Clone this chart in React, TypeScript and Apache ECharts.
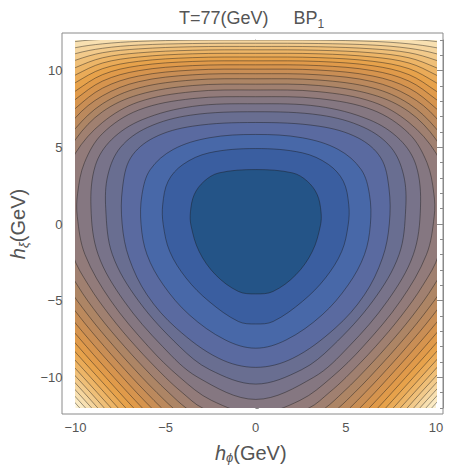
import React, { useEffect, useRef } from 'react';
import * as echarts from 'echarts';

// Contour lines of the effective potential, right half only (h_phi >= 0).
// Each list runs from the upper crossing of the h_xi axis clockwise round to the
// lower crossing; the left half is the mirror image. Points past the frame keep the
// curves continuous where they leave the plotting range.
const ring01 = [[0, 3.55], [2.05, 3.33], [2.86, 2.79], [3.41, 1.92], [3.62, 0.8], [3.59, -0.1], [3.14, -1.79], [2.23, -3.31], [0.96, -4.4], [0, -4.56]];
const ring02 = [[0, 4.92], [2.59, 4.64], [4.04, 3.88], [4.86, 2.79], [5.16, 1.26], [5.13, -0.04], [4.77, -1.79], [3.86, -3.53], [2.59, -5.05], [0.96, -6.36], [0, -6.52]];
const ring03 = [[0, 5.84], [2.59, 5.62], [4.58, 4.86], [5.85, 3.55], [6.31, 1.92], [6.36, -0.04], [6.03, -2.0], [5.13, -3.97], [3.68, -5.93], [1.69, -7.56], [0, -8.1]];
const ring04 = [[0, 6.62], [3.5, 6.38], [5.67, 5.62], [6.94, 4.31], [7.39, 2.35], [7.41, 0], [7.03, -2.22], [6.03, -4.62], [4.4, -6.8], [2.05, -8.76], [0, -9.35]];
const ring05 = [[0, 7.32], [3.6, 7.1], [6.0, 6.3], [7.5, 5.0], [8.2, 3.2], [8.32, 1.0], [7.95, -2], [6.51, -5], [4.22, -8], [2.55, -9.5], [0, -10.44]];
const ring06 = [[0, 7.84], [3.5, 7.67], [6.3, 6.8], [8.0, 5.5], [8.9, 3.8], [9.14, 1.1], [8.74, -2], [7.32, -5], [5.16, -8], [3.21, -10], [0, -11.44]];
const ring07 = [[0, 8.3], [3.5, 8.18], [6.5, 7.43], [8.5, 5.9], [9.5, 4.0], [9.88, 2.0], [9.9, 0.5], [9.47, -2], [8.04, -5], [5.95, -8], [4.21, -10], [2.46, -11.5], [0, -12.37]];
const ring08 = [[0, 8.74], [3.5, 8.63], [6.5, 7.96], [8.5, 6.62], [10, 4.62], [10.45, 2.9], [10.54, 1.0], [10.15, -2], [9.27, -4], [8.07, -6], [6.64, -8], [5.01, -10], [4.07, -11], [2.95, -12], [0, -13.23]];
const ring09 = [[0, 9.12], [3.5, 9.03], [6.5, 8.43], [8.5, 7.32], [10, 5.51], [10.9, 3.4], [11.19, 1.0], [10.78, -2], [9.89, -4], [8.69, -6], [7.27, -8], [5.69, -10], [4.82, -11], [3.86, -12], [1.91, -13.5], [0, -14.04]];
const ring10 = [[0, 9.47], [3.5, 9.39], [6.5, 8.87], [8.5, 7.84], [10, 6.23], [11.3, 4.0], [11.79, 0.9], [11.38, -2], [10.48, -4], [9.26, -6], [7.85, -8], [6.31, -10], [5.48, -11], [4.59, -12], [3.01, -13.5], [0, -14.8]];
const ring11 = [[0, 9.8], [3.5, 9.73], [6.5, 9.28], [8.5, 8.36], [10, 6.93], [11.5, 4.4], [12.2, 2.4], [12.37, 0.7], [11.95, -2], [11.03, -4], [9.8, -6], [8.39, -8], [6.87, -10], [6.06, -11], [5.22, -12], [3.81, -13.5], [0, -15.53]];
const ring12 = [[0, 10.1], [3.5, 10.04], [6.5, 9.65], [8.5, 8.86], [10, 7.54], [11.5, 5.8], [12.5, 3.6], [12.93, 0.6], [12.49, -2], [11.56, -4], [10.32, -6], [8.9, -8], [7.38, -10], [6.6, -11], [5.78, -12], [4.47, -13.5], [0, -16.23]];
const ring13 = [[0, 10.38], [3.5, 10.33], [6.5, 10.0], [8.5, 9.32], [10, 8.13], [11.5, 6.7], [12.8, 4.4], [13.46, 0.5], [13.01, -2], [12.07, -4], [10.81, -6], [9.38, -8], [7.87, -10], [7.09, -11], [6.29, -12], [5.04, -13.5], [0, -16.89]];
const ring14 = [[0, 10.64], [3.5, 10.6], [6.5, 10.32], [8.5, 9.74], [10, 8.67], [11.5, 7.4], [13.0, 5.2], [13.97, 0.4], [13.51, -2], [12.55, -4], [11.27, -6], [9.84, -8], [8.32, -10], [7.55, -11], [6.77, -12], [5.55, -13.5], [0, -17.53]];
const ring15 = [[0, 10.89], [3.5, 10.85], [6.5, 10.61], [8.5, 10.13], [10, 9.22], [11.5, 8.1], [13.3, 5.6], [14.46, 0.3], [14.0, -2], [13.02, -4], [11.72, -6], [10.27, -8], [8.75, -10], [7.98, -11], [7.21, -12], [6.02, -13.5], [0, -18.15]];
const ring16 = [[0, 11.13], [3.5, 11.1], [6.5, 10.89], [8.5, 10.5], [10, 9.72], [11.5, 8.75], [13.6, 6.0], [14.94, 0.3], [14.46, -2], [13.47, -4], [12.16, -6], [10.69, -8], [9.16, -10], [8.39, -11], [7.63, -12], [6.45, -13.5], [0, -18.74]];
const ring17 = [[0, 11.36], [3.5, 11.33], [6.5, 11.16], [8.5, 10.84], [10, 10.2], [11.5, 9.35], [13.9, 6.4], [15.4, 0.2], [14.91, -2], [13.9, -4], [12.57, -6], [11.09, -8], [9.56, -10], [8.79, -11], [8.02, -12], [6.86, -13.5], [0, -19.32]];
const ring18 = [[0, 11.58], [3.5, 11.56], [6.5, 11.42], [8.5, 11.17], [10, 10.68], [11.5, 9.95], [14.2, 6.8], [15.85, 0.2], [15.35, -2], [14.32, -4], [12.98, -6], [11.48, -8], [9.94, -10], [9.16, -11], [8.4, -12], [7.25, -13.5], [0, -19.88]];
const ring19 = [[0, 11.79], [3.5, 11.77], [6.5, 11.67], [8.5, 11.46], [10, 11.11], [11.5, 10.5], [14.5, 7.2], [16.28, 0.1], [15.78, -2], [14.73, -4], [13.37, -6], [11.86, -8], [10.3, -10], [9.52, -11], [8.76, -12], [7.61, -13.5], [0, -20.42]];
const ring20 = [[0, 12.0], [3.5, 11.99], [6.5, 11.91], [8.5, 11.75], [10, 11.5], [11.5, 11.05], [14.8, 7.6], [16.71, 0.1], [16.2, -2], [15.13, -4], [13.75, -6], [12.22, -8], [10.65, -10], [9.87, -11], [9.1, -12], [7.96, -13.5], [0, -20.94]];
const ring21 = [[0, 12.2], [3.5, 12.19], [6.5, 12.14], [8.5, 12.04], [10, 11.9], [11.5, 11.55], [15.1, 8.0], [17.12, 0.1], [16.6, -2], [15.52, -4], [14.12, -6], [12.57, -8], [10.99, -10], [10.21, -11], [9.44, -12], [8.29, -13.5], [0, -21.46]];
const ring22 = [[0, 12.4], [3.5, 12.39], [6.5, 12.35], [8.5, 12.27], [10, 12.2], [11.5, 11.9], [15.4, 8.4], [17.53, 0.1], [17.0, -2], [15.9, -4], [14.48, -6], [12.92, -8], [11.32, -10], [10.53, -11], [9.76, -12], [8.62, -13.5], [0, -21.96]];

const rings = [
  ring01, ring02, ring03, ring04, ring05, ring06, ring07, ring08, ring09, ring10, ring11,
  ring12, ring13, ring14, ring15, ring16, ring17, ring18, ring19, ring20, ring21, ring22,
];

const xTickValues = [-10, -5, 0, 5, 10];
const yTickValues = [-10, -5, 0, 5, 10];

const titleMain = 'T=77(GeV)     BP';
const titleSub = '1';

// fill of each band between neighbouring contours, lowest band first
const bandColors = [
  '#245487', '#3a5ea0', '#4868a8', '#5a6aa0', '#696e91', '#78738a', '#857781', '#927b7a',
  '#a08070', '#ad8565', '#bb895d', '#c98e55', '#d6944e', '#e09a4a', '#e7a24b', '#eaab58',
  '#edb567', '#efbf78', '#f2ca8b', '#f5d59e', '#f8e0b1', '#fbeac3', '#fdf2d3',
];

const FONT = '"Liberation Sans", Arial, sans-serif';
const TEXT = '#555555';
const FRAME = '#8a8a8a';
const LINE = 'rgba(25,25,25,0.55)';

const fmt = (v: number) => (v < 0 ? '\u2212' + Math.abs(v) : String(v));

const nameRich = {
  i: { fontFamily: FONT, fontStyle: 'italic' as const, fontSize: 20, color: TEXT, lineHeight: 23 },
  s: { fontFamily: FONT, fontStyle: 'italic' as const, fontSize: 13, color: TEXT, lineHeight: 9, verticalAlign: 'bottom' as const },
  n: { fontFamily: FONT, fontSize: 20, color: TEXT, lineHeight: 23 },
};

export default function App() {
  const ref = useRef<HTMLDivElement>(null);

  useEffect(() => {
    if (!ref.current) return;
    const chart = echarts.init(ref.current, undefined, { renderer: 'svg' });

    const order = rings.map((_, i) => rings.length - 1 - i);

    const tickStyle = { color: FRAME, width: 1 };

    const option: any = {
      animation: false,
      backgroundColor: '#ffffff',
      textStyle: { fontFamily: FONT },
      title: {
        text: `{a|${titleMain}}{b|${titleSub}}`,
        left: 174,
        top: 1,
        textStyle: {
          fontWeight: 'normal',
          rich: {
            a: { fontFamily: FONT, fontSize: 18, fontWeight: 'normal', color: TEXT, lineHeight: 24 },
            b: { fontFamily: FONT, fontSize: 12, fontWeight: 'normal', color: TEXT, lineHeight: 9, verticalAlign: 'bottom' },
          },
        },
      },
      grid: [
        { left: 62, top: 33, width: 381, height: 381, show: true, borderColor: FRAME, borderWidth: 1, backgroundColor: 'transparent' },
        { left: 68, top: 40, width: 368, height: 368, show: true, borderWidth: 0, backgroundColor: bandColors[rings.length] },
      ],
      xAxis: [
        { gridIndex: 0, type: 'value', min: 0, max: 1, show: false },
        {
          gridIndex: 1, type: 'value', min: -10, max: 10, interval: 5, position: 'bottom', offset: 6,
          axisLine: { show: true, lineStyle: tickStyle },
          axisTick: { show: true, inside: true, length: 6, lineStyle: tickStyle },
          minorTick: { show: true, splitNumber: 5, length: 3, lineStyle: tickStyle },
          splitLine: { show: false }, minorSplitLine: { show: false },
          axisLabel: { color: TEXT, fontSize: 13, fontFamily: FONT, margin: 7, formatter: fmt },
          name: '{i|h}{s|\u03d5}{n|(GeV)}',
          nameLocation: 'middle', nameGap: 27,
          nameTextStyle: { rich: nameRich, padding: [0, 10, 0, 0] },
        },
        {
          gridIndex: 1, type: 'value', min: -10, max: 10, interval: 5, position: 'top', offset: 7,
          axisLine: { show: true, lineStyle: tickStyle },
          axisTick: { show: true, inside: true, length: 6, lineStyle: tickStyle },
          minorTick: { show: true, splitNumber: 5, length: 3, lineStyle: tickStyle },
          splitLine: { show: false }, minorSplitLine: { show: false },
          axisLabel: { show: false },
        },
      ],
      yAxis: [
        { gridIndex: 0, type: 'value', min: 0, max: 1, show: false },
        {
          gridIndex: 1, type: 'value', min: -12, max: 12, interval: 1, position: 'left', offset: 6,
          axisLine: { show: true, lineStyle: tickStyle },
          axisTick: { show: true, inside: true, length: 3, lineStyle: tickStyle },
          splitLine: { show: false }, axisLabel: { show: false },
        },
        {
          gridIndex: 1, type: 'value', min: -12, max: 12, position: 'left', offset: 6,
          axisLine: { show: false },
          axisTick: { show: true, inside: true, length: 6, lineStyle: tickStyle, customValues: yTickValues },
          splitLine: { show: false },
          axisLabel: {
            color: TEXT, fontSize: 13, fontFamily: FONT, margin: 7, customValues: yTickValues,
            formatter: (v: number) => (yTickValues.includes(v) ? fmt(v) : ''),
          },
          name: '{i|h}{s|\u03be}{n|(GeV)}',
          nameLocation: 'middle', nameGap: 38, nameRotate: 90,
          nameTextStyle: { rich: nameRich },
        },
        {
          gridIndex: 1, type: 'value', min: -12, max: 12, interval: 1, position: 'right', offset: 7,
          axisLine: { show: true, lineStyle: tickStyle },
          axisTick: { show: true, inside: true, length: 3, lineStyle: tickStyle },
          splitLine: { show: false }, axisLabel: { show: false },
        },
        {
          gridIndex: 1, type: 'value', min: -12, max: 12, position: 'right', offset: 7,
          axisLine: { show: false },
          axisTick: { show: true, inside: true, length: 6, lineStyle: tickStyle, customValues: yTickValues },
          splitLine: { show: false },
          axisLabel: { show: false, customValues: yTickValues },
        },
      ],
      series: [
        {
          type: 'custom',
          xAxisIndex: 1,
          yAxisIndex: 1,
          clip: true,
          silent: true,
          data: order.map((i) => [i, 0]),
          renderItem: (_params: any, api: any) => {
            const idx = api.value(0) as number;
            const half = rings[idx];
            const pts: number[][] = [];
            for (let i = 0; i < half.length; i++) pts.push(api.coord([half[i][0], half[i][1]]));
            for (let i = half.length - 2; i >= 1; i--) pts.push(api.coord([-half[i][0], half[i][1]]));
            return {
              type: 'polygon',
              shape: { points: pts, smooth: 0.35 },
              style: { fill: bandColors[idx], stroke: LINE, lineWidth: 0.8 },
            };
          },
        },
      ],
    };

    chart.setOption(option);
    return () => chart.dispose();
  }, []);

  return (
    <div
      ref={ref}
      style={{ position: 'fixed', left: 0, top: 0, width: 468, height: 470, background: '#ffffff' }}
    />
  );
}
